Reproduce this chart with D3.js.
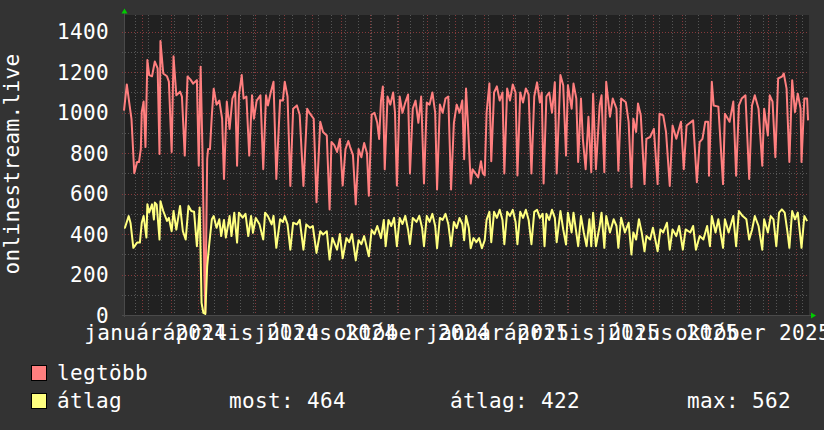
<!DOCTYPE html>
<html><head><meta charset="utf-8">
<script src="https://cdn.jsdelivr.net/npm/d3@7"></script>
<style>
html,body{margin:0;padding:0;background:#333333;}
svg{display:block;}
text{font-family:"DejaVu Sans Mono",monospace;fill:#ffffff;}
</style></head>
<body>
<svg id="chart" width="824" height="430"></svg>
<script>
// ---- data ----
const startDay = "2023-12-13";
const endDay = "2025-12-15";
const yTickValues = [0,200,400,600,800,1000,1200,1400];
const labelDates = ["2024-01-01","2024-04-01","2024-07-01","2024-10-01","2025-01-01","2025-04-01","2025-07-01","2025-10-01"];
const labelTexts = ["január 2024","április 2024","július 2024","október 2024","január 2025","április 2025","július 2025","október 2025"];
const yTitle = "onlinestream.live";
const seriesNames = ["legtöbb","átlag"];
const statLabels = ["most:","átlag:","max:"];
const statValues = [464,422,562];

// days since startDay
const maxDays = [0,3,6,8,11,14,16,18,19,21,23,25,27,30,33,36,38,39,42,46,48,51,53,56,60,62,65,68,71,74,78,80,82,84,86,87,89,90,92,94,96,99,102,105,107,110,113,116,119,121,123,126,128,131,134,137,139,142,146,149,152,154,157,160,163,167,170,172,175,178,181,185,188,192,196,199,203,206,210,213,217,220,222,225,228,
231,234,237,240,242,245,248,251,254,257,260,262,265,268,271,273,275,277,279,282,285,288,290,292,295,298,301,304,306,309,312,315,318,321,324,327,330,333,335,338,341,344,347,350,353,356,359,362,364,366,368,371,373,376,379,382,384,386,388,391,393,396,399,402,405,407,410,413,416,419,421,424,427,430,433,436,439,442,445,447,449,452,455,458,461,463,
467,470,473,475,479,481,484,486,489,491,494,497,500,502,505,509,511,514,516,520,523,527,529,532,537,540,543,545,548,550,553,557,559,563,567,571,573,577,580,584,587,591,593,596,599,602,609,613,616,619,622,625,626,629,631,636,641,643,648,652,655,658,661,665,669,672,675,679,683,685,689,691,694,697,700,704,706,709,712,715,718,721,724,725,728,731,732];
const maxVals = [1010,1140,1036,970,701,756,756,820,1005,1055,830,1260,1186,1180,1253,1219,796,1355,1194,1180,1154,806,1279,1086,1104,1080,788,1179,1165,1144,1161,738,1227,806,200,10,771,821,820,987,1119,1040,1060,970,672,1055,920,1070,1104,738,1086,1186,1070,1080,788,1086,970,1060,1086,721,1086,1036,1100,1153,672,1061,1060,1153,1080,638,1020,1036,990,638,1020,995,970,557,955,905,887,522,855,840,806,
870,640,820,860,830,790,547,820,780,850,800,590,990,1000,950,870,1060,1130,720,1080,1040,1100,1000,640,1080,1000,1050,1090,700,1020,1060,950,1080,650,1050,1040,1100,1000,620,1040,1000,1070,1080,620,950,1040,1000,1060,770,1120,950,650,720,700,680,760,700,690,1000,1145,760,1100,1130,1060,1100,700,1120,1060,1140,1100,690,1100,1050,1120,1090,700,1080,1150,1050,1100,650,1080,1100,1000,1150,700,
1186,1136,788,1136,1020,1144,1070,756,1070,871,721,980,706,1094,721,1036,1086,706,1153,980,1070,1020,713,1070,1052,955,632,970,905,1045,987,647,871,880,920,647,995,987,905,638,937,871,905,955,721,937,962,656,855,871,955,955,688,1153,1036,1030,647,995,955,1055,688,1036,1070,1086,672,1036,1086,1020,738,1020,887,1086,1055,780,1169,1178,1194,1119,756,1161,1003,1094,1020,756,1070,1070,962];

const avgDays = [0,1,5,7,10,14,17,19,21,24,25,27,30,32,33,35,38,39,42,46,48,51,53,56,60,63,66,69,72,75,78,81,83,85,87,89,91,94,96,99,102,104,107,109,113,115,118,121,123,127,130,133,136,138,141,145,149,151,154,158,160,163,167,170,172,175,178,181,185,188,192,195,199,202,206,210,213,217,220,223,228,
231,234,238,241,244,248,251,254,257,262,265,268,271,275,278,280,283,286,289,292,295,298,301,304,306,309,313,316,319,321,324,327,330,333,335,338,341,344,347,350,353,356,359,362,364,366,369,371,374,377,380,383,386,388,391,393,396,399,402,405,407,410,413,416,419,421,424,427,430,433,436,439,442,445,448,450,452,455,458,461,463,
467,470,473,475,479,481,486,489,492,495,498,500,502,505,509,511,514,516,520,524,527,529,532,536,540,543,545,548,551,554,557,559,563,566,571,574,577,581,584,587,591,594,598,601,606,609,612,616,620,624,627,629,633,636,641,643,647,652,655,658,662,666,669,672,675,679,683,685,689,692,695,698,701,704,707,710,712,715,718,721,725,728,731];
const avgVals = [431,431,489,455,332,358,358,456,489,383,547,507,547,472,556,545,373,562,514,465,480,414,514,422,539,414,373,539,514,510,340,531,60,10,5,240,340,473,489,431,473,390,470,383,489,390,506,358,506,481,500,390,489,406,480,448,373,506,489,448,490,332,473,460,489,448,323,456,448,470,323,448,431,440,307,414,398,414,274,381,323,
400,280,380,360,400,270,370,350,390,290,420,400,440,380,470,340,470,440,480,340,480,450,490,420,350,480,460,490,430,340,490,460,500,440,330,480,470,500,450,340,460,430,480,450,370,490,430,330,380,360,380,330,370,470,510,360,510,480,520,470,350,510,490,520,460,350,510,480,520,470,350,510,520,480,500,340,500,470,520,480,360,
514,423,348,506,408,506,340,489,408,340,473,340,506,340,440,506,332,489,408,473,440,332,481,408,456,299,408,373,473,408,315,390,373,431,315,423,408,456,323,423,390,440,323,423,408,440,323,390,373,440,340,489,408,473,332,473,408,489,340,514,489,473,373,420,489,440,323,473,408,489,473,340,506,522,506,408,332,514,473,506,332,489,464];

// ---- chart ----
const svg = d3.select("#chart");
const parse = d3.utcParse("%Y-%m-%d");
const t0 = parse(startDay), t1 = parse(endDay);
const L = 124, R = 809, T = 15, B = 315;
const x = d3.scaleUtc().domain([t0, t1]).range([L, R]);
const y = d3.scaleLinear().domain([0, 1483]).range([B, T]);
const FS = 21, LS = 0.36;

svg.append("rect").attr("width", 824).attr("height", 430).attr("fill", "#333333");
svg.append("rect").attr("x", L).attr("y", T).attr("width", R - L).attr("height", B - T).attr("fill", "#212121");

const grid = svg.append("g").attr("shape-rendering", "crispEdges");
// minor horizontal
const minorY = d3.range(100, 1500, 100).filter(v => v % 200 !== 0 && y(v) >= T);
grid.selectAll(".hmin").data(minorY).join("line")
  .attr("x1", L - 2).attr("x2", R).attr("y1", d => Math.round(y(d)) + 0.5).attr("y2", d => Math.round(y(d)) + 0.5)
  .attr("stroke", "#565656").attr("stroke-dasharray", "1,2");
// minor vertical: every second Monday
const mondays = d3.utcMonday.range(t0, t1).filter((d, i) => i % 2 === 1);
grid.selectAll(".vmin").data(mondays).join("line")
  .attr("y1", T).attr("y2", B + 2).attr("x1", d => Math.round(x(d)) + 0.5).attr("x2", d => Math.round(x(d)) + 0.5)
  .attr("stroke", "#565656").attr("stroke-dasharray", "1,2");
// major horizontal
grid.selectAll(".hmaj").data(yTickValues.filter(v => v > 0)).join("line")
  .attr("x1", L - 2).attr("x2", R).attr("y1", d => Math.round(y(d)) + 0.5).attr("y2", d => Math.round(y(d)) + 0.5)
  .attr("stroke", "#84393b").attr("stroke-dasharray", "1,2");
// major vertical: month starts
const months = d3.utcMonth.range(t0, t1);
grid.selectAll(".vmaj").data(months).join("line")
  .attr("y1", T).attr("y2", B + 3).attr("x1", d => Math.round(x(d)) + 0.5).attr("x2", d => Math.round(x(d)) + 0.5)
  .attr("stroke", "#84393b").attr("stroke-dasharray", "1,2");

// axes lines
grid.append("line").attr("x1", L - 2).attr("x2", R + 2).attr("y1", B + 0.5).attr("y2", B + 0.5).attr("stroke", "#4a4a4a");
grid.append("line").attr("x1", L + 0.5).attr("x2", L + 0.5).attr("y1", B + 2).attr("y2", T - 3).attr("stroke", "#4a4a4a");
// arrows
svg.append("path").attr("d", `M${L - 2.5},${T - 1.5} L${L + 3.5},${T - 1.5} L${L + 0.5},${T - 6.5} Z`).attr("fill", "#00cc00");
svg.append("path").attr("d", `M${R + 2},${B - 2.5} L${R + 2},${B + 3.5} L${R + 7},${B + 0.5} Z`).attr("fill", "#00cc00");

// series
const toPts = (days, vals) => days.map((d, i) => [d3.utcDay.offset(t0, d), vals[i]]);
const line = d3.line().x(d => x(d[0])).y(d => y(d[1]));
svg.append("path").datum(toPts(maxDays, maxVals)).attr("d", line)
  .attr("fill", "none").attr("stroke", "#ff7f7f").attr("stroke-width", 2).attr("stroke-linejoin", "round");
svg.append("path").datum(toPts(avgDays, avgVals)).attr("d", line)
  .attr("fill", "none").attr("stroke", "#ffff7f").attr("stroke-width", 2).attr("stroke-linejoin", "round");

// y labels
svg.selectAll(".ylab").data(yTickValues).join("text")
  .attr("x", 109).attr("y", d => y(d) + 7.5).attr("text-anchor", "end")
  .attr("font-size", FS).attr("letter-spacing", LS).text(d => d);

// x labels
svg.selectAll(".xlab").data(labelDates).join("text")
  .attr("x", d => x(d3.utcDay.offset(parse(d), 15))).attr("y", 340).attr("text-anchor", "middle")
  .attr("font-size", FS).attr("letter-spacing", LS).text((d, i) => labelTexts[i]);

// y title
svg.append("text").attr("transform", "translate(19,164) rotate(-90)").attr("text-anchor", "middle")
  .attr("font-size", FS).attr("letter-spacing", LS).text(yTitle);

// legend
const colors = ["#ff7f7f", "#ffff7f"];
seriesNames.forEach((n, i) => {
  const yy = 365 + i * 28;
  svg.append("rect").attr("x", 31.5).attr("y", yy + 0.5).attr("width", 15).attr("height", 15)
    .attr("fill", colors[i]).attr("stroke", "#000").attr("stroke-width", 1);
  svg.append("text").attr("x", 57).attr("y", yy + 15).attr("font-size", FS).attr("letter-spacing", LS).text(n);
});
const statX = [229, 450, 687];
statLabels.forEach((s, i) => {
  svg.append("text").attr("x", statX[i]).attr("y", 408).attr("font-size", FS).attr("letter-spacing", LS)
    .text(s + " " + statValues[i]);
});
</script>
</body></html>
